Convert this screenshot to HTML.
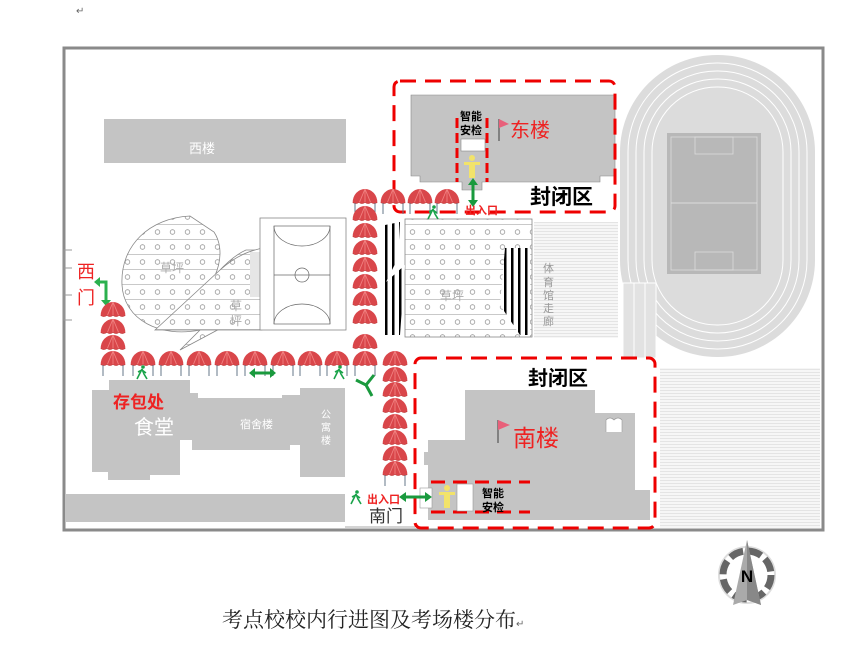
<!DOCTYPE html>
<html><head><meta charset="utf-8"><style>
html,body{margin:0;padding:0;background:#fff;}
svg{display:block;font-family:"Liberation Sans","Noto Sans CJK SC",sans-serif;}
</style></head><body>
<svg width="866" height="645" viewBox="0 0 866 645" xmlns="http://www.w3.org/2000/svg">
<defs>
<pattern id="dots" width="15" height="15" patternUnits="userSpaceOnUse">
<rect width="15" height="15" fill="#fff"/><line x1="0" y1="14.5" x2="15" y2="14.5" stroke="#bbb" stroke-width="0.8"/>
<circle cx="7.5" cy="7" r="2.3" fill="none" stroke="#999" stroke-width="0.8"/></pattern>
<pattern id="stripes" width="7" height="5" patternUnits="userSpaceOnUse"><rect width="7" height="5" fill="#fff"/><rect width="2.5" height="5" fill="#000"/></pattern>
<pattern id="hl" width="4" height="3" patternUnits="userSpaceOnUse"><rect width="4" height="3" fill="#f6f6f6"/><line x1="0" y1="0.5" x2="4" y2="0.5" stroke="#e4e4e4"/></pattern>
<g id="u0">
<path d="M-11,12 A11,12 0 0 1 11,12 Z" fill="#d9464a"/>
<path d="M0,0 L-5,12 M0,0 L5,12 M0,0 L0,12" stroke="#f08080" stroke-width="0.8"/>
<path d="M-11,12 q2.75,2 5.5,0 q2.75,2 5.5,0 q2.75,2 5.5,0 q2.75,2 5.5,0" fill="#d9464a" stroke="#b33" stroke-width="0.5"/>
</g>
<g id="u"><use href="#u0" transform="scale(1.12)"/></g>
<g id="ul"><use href="#u"/><line x1="-10" y1="14" x2="-10" y2="25" stroke="#678"/><line x1="10" y1="14" x2="10" y2="25" stroke="#678"/></g>
<g id="walk" fill="#1aa34a"><circle cx="1" cy="-6" r="1.8"/><path d="M0,-4 L-3,2 L-5,6 M0,-4 L2,1 L5,6 M0,-3 L-4,-1 M0,-3 L4,0" stroke="#1aa34a" stroke-width="1.6" fill="none"/></g>
</defs>
<text x="76" y="14" font-size="10" fill="#666">↵</text>
<rect x="64" y="48" width="759" height="482" fill="#fff" stroke="#8a8a8a" stroke-width="3"/>
<rect x="620" y="55" width="195" height="302" rx="97" fill="#dcdcdc"/>
<rect x="628" y="63" width="179" height="286" rx="89" fill="none" stroke="#fff" stroke-width="1"/>
<rect x="636" y="71" width="163" height="270" rx="81" fill="none" stroke="#fff" stroke-width="1"/>
<rect x="644" y="79" width="147" height="254" rx="73" fill="none" stroke="#fff" stroke-width="1"/>
<rect x="652" y="87" width="131" height="238" rx="65" fill="#dcdcdc" stroke="#fff" stroke-width="1"/>
<rect x="667" y="133" width="94" height="141" fill="#b8b8b8"/>
<rect x="671" y="137" width="86" height="133" fill="none" stroke="#ddd" stroke-width="0.8"/>
<line x1="671" y1="203" x2="757" y2="203" stroke="#ddd"/>
<rect x="695" y="137" width="38" height="17" fill="none" stroke="#ddd" stroke-width="0.8"/>
<rect x="695" y="252" width="38" height="18" fill="none" stroke="#ddd" stroke-width="0.8"/>
<rect x="623" y="283" width="33" height="75" fill="#e2e2e2" stroke="#fff"/>
<line x1="634" y1="283" x2="634" y2="358" stroke="#fff"/><line x1="645" y1="283" x2="645" y2="358" stroke="#fff"/>
<rect x="534" y="222" width="84" height="116" fill="url(#hl)"/>
<text font-size="11" fill="#999"><tspan x="543" y="272">体</tspan><tspan x="543" y="286">育</tspan><tspan x="543" y="299">馆</tspan><tspan x="543" y="312">走</tspan><tspan x="543" y="325">廊</tspan></text>
<rect x="660" y="368" width="160" height="160" fill="url(#hl)"/>
<rect x="104" y="119" width="242" height="44" fill="#c4c4c4"/>
<text x="202" y="153" font-size="13" fill="#fff" text-anchor="middle">西楼</text>
<path d="M190,216 C150,218 120,245 122,285 C124,320 160,338 200,330 L180,350 L240,318 C260,300 262,270 262,250 L246,250 C228,258 210,280 196,300 C220,280 226,250 214,232 Z" fill="url(#dots)" stroke="#888" stroke-width="0.8"/>
<path d="M155,330 L220,270 C240,252 256,250 262,248 L262,330 Z" fill="url(#dots)" stroke="#888" stroke-width="0.8"/>
<rect x="250" y="252" width="12" height="45" fill="#e6e6e6"/>
<text x="160" y="272" font-size="12" fill="#aaa">草坪</text>
<text x="230" y="310" font-size="12" fill="#aaa">草</text><text x="230" y="325" font-size="12" fill="#aaa">坪</text>
<rect x="260" y="218" width="86" height="112" fill="#fff" stroke="#888" stroke-width="0.8"/>
<rect x="274" y="226" width="56" height="98" fill="none" stroke="#666" stroke-width="0.7"/>
<line x1="274" y1="275" x2="330" y2="275" stroke="#666" stroke-width="0.7"/>
<circle cx="302" cy="275" r="7" fill="none" stroke="#666" stroke-width="0.7"/>
<path d="M274,226 A28,20 0 0 0 330,226 M274,324 A28,20 0 0 1 330,324" fill="none" stroke="#666" stroke-width="0.7"/>
<rect x="405" y="219" width="127" height="118" fill="url(#dots)" stroke="#888" stroke-width="0.8"/>
<path d="M385,225 L400,222 L398,258 L386,282 L405,265 L400,335 L383,335 Z" fill="url(#stripes)"/>
<path d="M505,248 L530,248 L530,335 L520,335 L500,305 Z" fill="url(#stripes)"/>
<text x="440" y="300" font-size="12" fill="#aaa">草坪</text>
<path d="M72,250 H64 V320 H72 M64,268 H72 M64,295 H72" fill="none" stroke="#999"/>
<text x="77" y="278" font-size="18" fill="#e22">西</text><text x="77" y="304" font-size="18" fill="#e22">门</text>
<path d="M98,282 H106 V300" fill="none" stroke="#2bb04e" stroke-width="3"/>
<path d="M94,282 L100,277 L100,287Z M101,300 L111,300 L106,306Z" fill="#2bb04e"/>
<path d="M109,380 H190 V393 H198 V398 H282 V395 H300 V388 H345 V477 H300 V445 H290 V450 H192 V440 H180 V475 H150 V480 H108 V472 H92 V390 H109 Z" fill="#c4c4c4"/>
<text x="113" y="408" font-size="17" font-weight="bold" fill="#e22">存包处</text>
<text x="134" y="434" font-size="20" fill="#fff">食堂</text>
<text x="240" y="428" font-size="11" fill="#fff">宿舍楼</text>
<text font-size="10" fill="#fff"><tspan x="321" y="418">公</tspan><tspan x="321" y="431">寓</tspan><tspan x="321" y="444">楼</tspan></text>
<rect x="66" y="494" width="279" height="28" fill="#c4c4c4"/>
<path d="M411,95 H615 V176 H600 V182 H482 V190 H462 V182 H420 V176 H411 Z" fill="#c4c4c4" stroke="#888" stroke-width="0.6"/>
<rect x="394" y="81" width="221" height="131" rx="6" fill="none" stroke="#e00" stroke-width="3" stroke-dasharray="16,9"/>
<text x="460" y="120" font-size="11" font-weight="bold">智能</text>
<text x="460" y="134" font-size="11" font-weight="bold">安检</text>
<path d="M457,118 V182 M487,118 V182" stroke="#e00" stroke-width="3" stroke-dasharray="10,5"/>
<rect x="461" y="139" width="24" height="12" fill="#fff" stroke="#888" stroke-width="0.6"/>
<g fill="#f2e36a"><circle cx="472" cy="158" r="3"/><path d="M464,162 H480 V165 H475 V178 H469 V165 H464Z"/></g>
<line x1="499" y1="119" x2="499" y2="141" stroke="#555" stroke-width="1.2"/><path d="M499,119 L509,124 L499,128Z" fill="#e8607a"/>
<text x="510" y="137" font-size="20" fill="#e22">东楼</text>
<path d="M473,181 V203" stroke="#1a9a3e" stroke-width="3"/><path d="M468,185 L473,178 L478,185Z M468,200 L473,207 L478,200Z" fill="#1a9a3e"/>
<text x="465" y="214" font-size="11" font-weight="bold" fill="#e22">出入口</text>
<text x="530" y="204" font-size="21" font-weight="bold">封闭区</text>
<path d="M465,390 H595 V413 H635 V490 H650 V520 H428 V465 H424 V452 H428 V440 H465 Z" fill="#c4c4c4"/>
<path d="M606,432 V420 q4,-4 8,0 q4,-4 8,0 V432" fill="#fff" stroke="#999" stroke-width="0.6"/>
<rect x="415" y="358" width="240" height="170" rx="6" fill="none" stroke="#e00" stroke-width="3" stroke-dasharray="16,9"/>
<text x="528" y="385" font-size="20" font-weight="bold">封闭区</text>
<line x1="498" y1="420" x2="498" y2="443" stroke="#555" stroke-width="1.2"/><path d="M498,420 L510,425 L498,430Z" fill="#e8607a"/>
<text x="513" y="446" font-size="23" fill="#e22">南楼</text>
<path d="M431,482 H530 M431,512 H530" stroke="#e00" stroke-width="3" stroke-dasharray="14,8"/>
<rect x="420" y="488" width="12" height="20" fill="#fff" stroke="#999" stroke-width="0.6"/>
<rect x="457" y="484" width="16" height="27" fill="#fff" stroke="#999" stroke-width="0.6"/>
<g fill="#f2e36a"><circle cx="447" cy="488" r="3"/><path d="M439,492 H455 V495 H450 V508 H444 V495 H439Z"/></g>
<text x="482" y="497" font-size="11" font-weight="bold">智能</text>
<text x="482" y="511" font-size="11" font-weight="bold">安检</text>
<path d="M403,497 H428" stroke="#1a9a3e" stroke-width="3"/><path d="M406,492 L399,497 L406,502Z M425,492 L432,497 L425,502Z" fill="#1a9a3e"/>
<text x="367" y="503" font-size="11" font-weight="bold" fill="#e22">出入口</text>
<text x="369" y="522" font-size="17" fill="#333">南门</text>
<use href="#walk" x="356" y="498"/>
<line x1="345" y1="527" x2="415" y2="527" stroke="#aaa"/>
<use href="#ul" x="365" y="189"/><use href="#ul" x="393" y="189"/><use href="#ul" x="420" y="189"/><use href="#ul" x="447" y="189"/>
<use href="#u" x="365" y="206"/><use href="#u" x="365" y="223"/><use href="#u" x="365" y="240"/><use href="#u" x="365" y="257"/><use href="#u" x="365" y="274"/><use href="#u" x="365" y="291"/><use href="#u" x="365" y="309"/><use href="#u" x="365" y="334"/>
<use href="#u" x="113" y="302"/><use href="#u" x="113" y="319"/><use href="#u" x="113" y="335"/>
<use href="#ul" x="113" y="351"/><use href="#ul" x="143" y="351"/><use href="#ul" x="171" y="351"/><use href="#ul" x="199" y="351"/><use href="#ul" x="227" y="351"/><use href="#ul" x="255" y="351"/><use href="#ul" x="283" y="351"/><use href="#ul" x="310" y="351"/><use href="#ul" x="337" y="351"/><use href="#ul" x="365" y="351"/>
<use href="#u" x="395" y="351"/><use href="#u" x="395" y="367"/><use href="#u" x="395" y="382"/><use href="#u" x="395" y="398"/><use href="#u" x="395" y="414"/><use href="#u" x="395" y="430"/><use href="#u" x="395" y="446"/><use href="#ul" x="395" y="461"/>
<use href="#walk" x="142" y="373"/><use href="#walk" x="339" y="373"/><use href="#walk" x="433" y="213"/>
<path d="M253,373 H272" stroke="#1a9a3e" stroke-width="3"/><path d="M255,368 L249,373 L255,378Z M270,368 L276,373 L270,378Z" fill="#1a9a3e"/>
<path d="M356,380 L366,385 L374,375 M366,385 L372,396" stroke="#1a9a3e" stroke-width="3" fill="none"/>
<g transform="translate(747,575)">
<circle r="28" fill="none" stroke="#ddd" stroke-width="2"/>
<circle r="24" fill="none" stroke="#666" stroke-width="7" stroke-dasharray="14,5"/>
<path d="M0,-35 L-14,30 L0,25 L14,30 Z" fill="#aaa"/><path d="M0,-35 L0,25 L14,30Z" fill="#888"/>
<text x="0" y="7" font-size="17" font-weight="bold" text-anchor="middle">N</text>
</g>
<text x="222" y="627" font-size="21" font-family="Liberation Serif,'Noto Serif CJK SC',serif" fill="#222">考点校校内行进图及考场楼分布<tspan font-size="10" fill="#666">↵</tspan></text>
</svg>
</body></html>
